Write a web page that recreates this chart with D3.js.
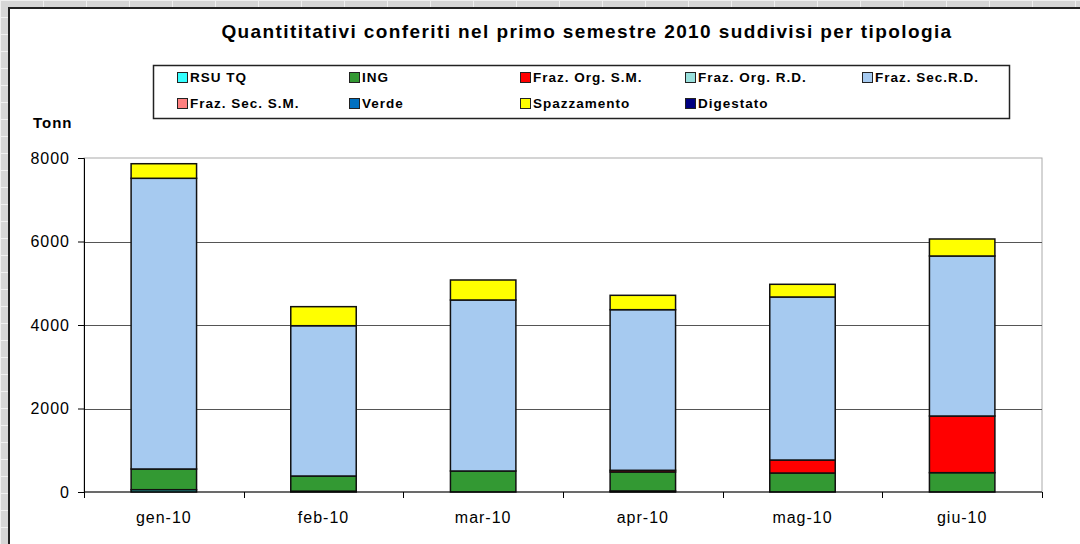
<!DOCTYPE html>
<html>
<head>
<meta charset="utf-8">
<script src="https://cdn.jsdelivr.net/npm/d3@7"></script>
<style>
  body { margin: 0; background: #fff; }
  svg { display: block; font-family: Arial, "Liberation Sans", sans-serif; }
</style>
</head>
<body>
<script>
// data (Tonn)
const months = ['gen-10', 'feb-10', 'mar-10', 'apr-10', 'mag-10', 'giu-10'];
const series = ['RSU TQ', 'ING', 'Fraz. Org. S.M.', 'Fraz. Org. R.D.', 'Fraz. Sec.R.D.',
  'Fraz. Sec. S.M.', 'Verde', 'Spazzamento', 'Digestato'];
const rsuTq = [55, 20, 0, 25, 0, 0];
const ing = [496, 363, 503, 455, 455, 463];
const fragOrgSM = [0, 0, 0, 40, 311, 1357];
const fragOrgRD = [0, 0, 0, 0, 0, 0];
const fragSecRD = [6963, 3600, 4096, 3847, 3905, 3833];
const fragSecSM = [0, 0, 0, 0, 0, 0];
const verde = [0, 0, 0, 0, 0, 0];
const spazzamento = [349, 456, 479, 344, 304, 407];
const digestato = [0, 0, 0, 0, 0, 0];
const yTicks = [0, 2000, 4000, 6000, 8000];

const colors = ['#33ffff', '#339933', '#ff0000', '#99e0dc', '#a6caf0',
  '#ff8080', '#0070c0', '#ffff00', '#000080'];

const allSeries = [rsuTq, ing, fragOrgSM, fragOrgRD, fragSecRD, fragSecSM, verde, spazzamento, digestato];
const table = months.map((m, i) => {
  const row = { month: m };
  series.forEach((s, j) => { row[s] = allSeries[j][i]; });
  return row;
});

const W = 1080;
const H = 544;
const plot = { left: 84, right: 1042, top: 158, bottom: 492 };

const svg = d3.select('body').append('svg')
  .attr('width', W)
  .attr('height', H);

// excel sheet grid peeking out behind the chart
svg.append('rect').attr('width', W).attr('height', H).attr('fill', '#d6d6d6');
const bg = svg.append('g').attr('stroke', '#f0f0f0').attr('stroke-width', 1);
d3.range(0, W, 43).forEach((x) => {
  bg.append('line').attr('x1', x + 0.5).attr('x2', x + 0.5).attr('y1', 0).attr('y2', H);
});
d3.range(0, H, 17).forEach((y) => {
  bg.append('line').attr('x1', 0).attr('x2', W).attr('y1', y + 0.5).attr('y2', y + 0.5);
});

// chart area
svg.append('rect')
  .attr('x', 9).attr('y', 8)
  .attr('width', W).attr('height', H)
  .attr('fill', '#fff')
  .attr('stroke', '#222')
  .attr('stroke-width', 2);

svg.append('text')
  .attr('x', 587).attr('y', 38)
  .attr('text-anchor', 'middle')
  .attr('font-size', 19)
  .attr('font-weight', 'bold')
  .attr('letter-spacing', 1.4)
  .text('Quantititativi conferiti nel primo semestre 2010 suddivisi per tipologia');

// legend
svg.append('rect')
  .attr('x', 153.5).attr('y', 65.5)
  .attr('width', 856).attr('height', 53)
  .attr('fill', '#fff')
  .attr('stroke', '#222')
  .attr('stroke-width', 1.5);

const legendCols = [177, 349, 520, 685, 862];
const legendRows = [77, 103];
const legend = svg.append('g').selectAll('g')
  .data(series)
  .join('g')
  .attr('transform', (d, i) => `translate(${legendCols[i % 5]},${legendRows[Math.floor(i / 5)]})`);
legend.append('rect')
  .attr('x', 0.5).attr('y', -4.5)
  .attr('width', 10).attr('height', 10)
  .attr('fill', (d, i) => colors[i])
  .attr('stroke', '#222')
  .attr('stroke-width', 1);
legend.append('text')
  .attr('x', 13).attr('y', 5)
  .attr('font-size', 13.5)
  .attr('font-weight', 'bold')
  .attr('letter-spacing', 1)
  .text((d) => d);

// scales
const x = d3.scaleBand().domain(months).range([plot.left, plot.right]).paddingInner(0.59).paddingOuter(0.295);
const xb = d3.scaleBand().domain(months).range([plot.left, plot.right]);
const y = d3.scaleLinear().domain([0, 8000]).range([plot.bottom, plot.top]);

// plot frame and gridlines
svg.append('rect')
  .attr('x', plot.left).attr('y', plot.top)
  .attr('width', plot.right - plot.left).attr('height', plot.bottom - plot.top)
  .attr('fill', 'none')
  .attr('stroke', '#aaa');
svg.append('g')
  .selectAll('line')
  .data(yTicks.slice(1, -1))
  .join('line')
  .attr('x1', plot.left).attr('x2', plot.right)
  .attr('y1', (d) => Math.round(y(d)) + 0.5)
  .attr('y2', (d) => Math.round(y(d)) + 0.5)
  .attr('stroke', '#555');

// stacked bars
const stack = d3.stack().keys(series)(table);
svg.append('g')
  .selectAll('g')
  .data(stack)
  .join('g')
  .attr('fill', (d, i) => colors[i])
  .selectAll('rect')
  .data((d) => d.filter((p) => p[1] > p[0]))
  .join('rect')
  .attr('x', (d) => x(d.data.month))
  .attr('y', (d) => y(d[1]))
  .attr('width', x.bandwidth())
  .attr('height', (d) => y(d[0]) - y(d[1]))
  .attr('stroke', '#111')
  .attr('stroke-width', 1.5);

// axes
const yAxis = svg.append('g')
  .attr('transform', `translate(${plot.left},0)`)
  .call(d3.axisLeft(y).tickValues(yTicks).tickSize(6).tickPadding(8).tickFormat(d3.format('d')));
yAxis.select('.domain').attr('stroke', '#000');
yAxis.selectAll('text')
  .attr('font-size', 16)
  .attr('letter-spacing', 1)
  .attr('fill', '#000')
  .attr('font-family', 'Arial, "Liberation Sans", sans-serif');

const xAxisG = svg.append('g').attr('transform', `translate(0,${plot.bottom})`);
xAxisG.append('line')
  .attr('x1', plot.left).attr('x2', plot.right)
  .attr('stroke', '#000');
xAxisG.selectAll('line.tick')
  .data(months.map((m) => xb(m)).concat([plot.right]))
  .join('line')
  .classed('tick', true)
  .attr('x1', (d) => Math.round(d) + 0.5).attr('x2', (d) => Math.round(d) + 0.5)
  .attr('y1', 0).attr('y2', 6)
  .attr('stroke', '#000');
xAxisG.selectAll('text')
  .data(months)
  .join('text')
  .attr('x', (d) => xb(d) + xb.bandwidth() / 2)
  .attr('y', 31)
  .attr('text-anchor', 'middle')
  .attr('font-size', 16)
  .attr('letter-spacing', 1)
  .text((d) => d);

svg.append('text')
  .attr('x', 33).attr('y', 128)
  .attr('font-size', 15)
  .attr('font-weight', 'bold')
  .attr('letter-spacing', 1)
  .text('Tonn');
</script>
</body>
</html>
